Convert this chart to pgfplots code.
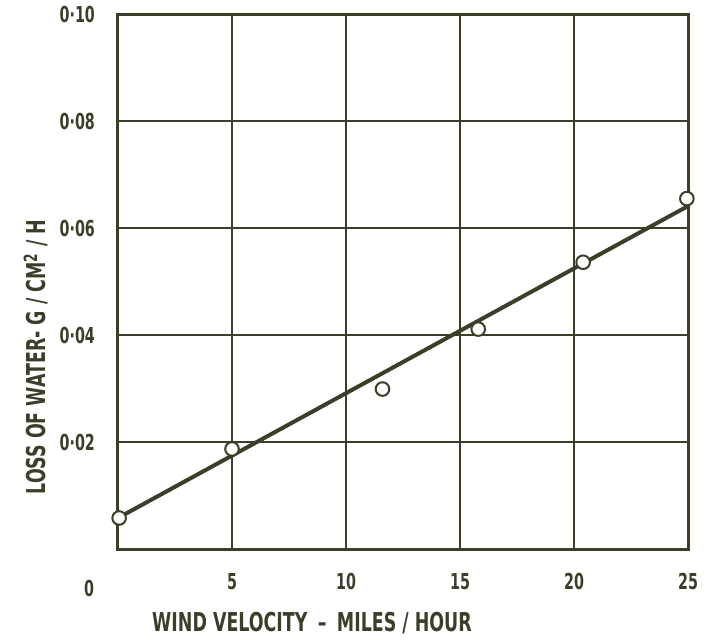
\documentclass[border=0pt]{standalone}
\usepackage{fontspec}
\setmainfont{DejaVu Sans}[FakeStretch=0.8]
\newfontfamily\tickfont{DejaVu Sans Bold}[FakeStretch=0.65]
\newfontfamily\labelfont{DejaVu Sans Bold}[FakeStretch=0.67]
\usepackage{pgfplots}
\pgfplotsset{compat=1.18}
\definecolor{ink}{RGB}{60,62,42}
\begin{document}
\begin{tikzpicture}
\begin{axis}[
  at={(0,0)}, anchor=south west,
  scale only axis, width=285pt, height=267.5pt,
  xmin=0, xmax=25, ymin=0, ymax=0.10,
  xtick={5,10,15,20,25},
  xticklabels={5,10,15,20,25},
  ytick={0.02,0.04,0.06,0.08,0.10},
  yticklabels={0·02,0·04,0·06,0·08,0·10},
  major tick length=0pt,
  grid=major,
  grid style={ink, line width=1pt},
  axis line style={ink, line width=1.5pt},
  tick label style={font=\tickfont\fontsize{11}{12}\selectfont, text=ink},
  xticklabel style={yshift=-8.5pt},
  yticklabel style={xshift=-8pt},
  clip=false,
]
\addplot[ink, line width=2pt] coordinates {(0,0.0058) (25,0.0641)};
\addplot[only marks, mark=*, mark size=3.4pt, mark options={fill=white, draw=ink, line width=1pt}]
  coordinates {(0.05,0.0058) (5.0,0.0187) (11.6,0.0299) (15.8,0.0411) (20.4,0.0536) (24.95,0.0655)};
\end{axis}
\node[text=ink, font=\tickfont\fontsize{11}{12}\selectfont] at (-14.5pt,-19.5pt) {0};
\node[text=ink, font=\labelfont\fontsize{13}{14}\selectfont] at (97pt,-37pt) {WIND VELOCITY \,–\, MILES / HOUR};
\node[text=ink, rotate=90, font=\labelfont\fontsize{13}{14}\selectfont] at (-41pt,96pt) {LOSS OF WATER- G / CM\textsuperscript{2} / H};
\pgfresetboundingbox
\path (-59pt,-45pt) rectangle (300pt,274.5pt);
\end{tikzpicture}
\end{document}
